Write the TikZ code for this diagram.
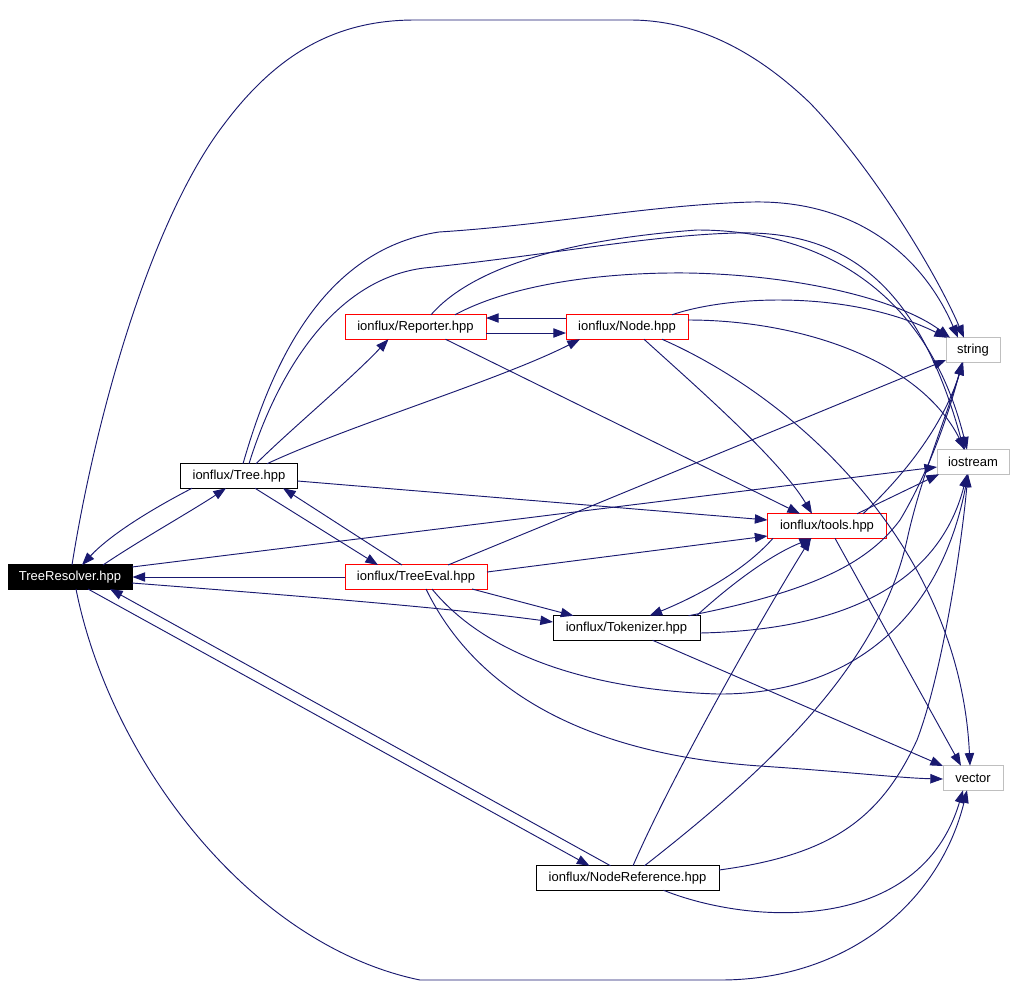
\documentclass[tikz,border=0pt]{standalone}
\usepackage{fontspec}
\setmainfont{Liberation Sans}
\usetikzlibrary{arrows.meta,calc}
\definecolor{edgec}{RGB}{25,25,112}
\definecolor{boxred}{RGB}{255,0,0}
\definecolor{boxgrey}{RGB}{191,191,191}
\tikzset{
 box/.style={draw, rectangle, inner sep=0pt, minimum height=18.4pt, line width=0.75pt,
   font=\fontsize{9.75pt}{11pt}\selectfont, text=black, fill=white},
 redbox/.style={box, draw=boxred},
 greybox/.style={box, draw=boxgrey},
 blackbox/.style={box, draw=black},
 rootbox/.style={box, draw=black, fill=black, text=white},
 dep/.style={draw=edgec, line width=0.7pt, -{Triangle[length=9.5pt,width=7pt]}}
}
\begin{document}
\begin{tikzpicture}[x=0.75pt,y=-0.75pt]
\fill[white] (0,0) rectangle (1016,1000);
\useasboundingbox (0,0) rectangle (1016,1000);

% nodes
\node[rootbox, minimum width=93pt] (TR) at (70,577) {TreeResolver.hpp};
\node[blackbox, minimum width=87.75pt] (Tree) at (239,476) {ionflux/Tree.hpp};
\node[redbox, minimum width=105.75pt] (Rep) at (415.5,327) {ionflux/Reporter.hpp};
\node[redbox, minimum width=91.5pt] (Node) at (627,327) {ionflux/Node.hpp};
\node[greybox, minimum width=40.5pt] (str) at (973,350) {string};
\node[greybox, minimum width=54pt] (ios) at (973,462) {iostream};
\node[redbox, minimum width=89.25pt] (tools) at (827,526) {ionflux/tools.hpp};
\node[redbox, minimum width=106.5pt] (TE) at (416,577) {ionflux/TreeEval.hpp};
\node[blackbox, minimum width=110.25pt] (Tok) at (626.5,628) {ionflux/Tokenizer.hpp};
\node[greybox, minimum width=45pt] (vec) at (973,778) {vector};
\node[blackbox, minimum width=137.25pt] (NR) at (627.5,878) {ionflux/NodeReference.hpp};

% TreeResolver edges
\draw[dep] ($(Tree)+(-47,12.25)$) .. controls (150,510) and (110,535) .. ($(TR)+(12,-12)$);
\draw[dep] ($(TR)+(33,-12)$) .. controls (140,540) and (190,512) .. ($(Tree)+(-13,12.25)$);
\draw[dep] (TE.west) -- (TR.east);
\draw[dep] ($(TR)+(62,-10)$) -- ($(ios)+(-36,5)$);
\draw[dep] ($(TR)+(62,6)$) .. controls (300,596) and (450,608) .. ($(Tok)+(-73.5,-6)$);
\draw[dep] ($(TR)+(18,12)$) -- ($(NR)+(-38,-12.25)$);
\draw[dep] ($(NR)+(-17,-12.25)$) -- ($(TR)+(40,12)$);
\draw[dep] ($(TR)+(2,-12)$) .. controls (95,420) and (150,220) .. (225,123)
   .. controls (280,50) and (340,20) .. (415,20) -- (630,20)
   .. controls (700,20) and (760,55) .. (810,103)
   .. controls (870,165) and (935,270) .. ($(str)+(-9,-12.25)$);
\draw[dep] ($(TR)+(6,12)$) .. controls (110,760) and (250,945) .. (420,980) -- (720,980)
   .. controls (850,980) and (940,900) .. ($(vec)+(-6,12.25)$);
\draw[dep] ($(NR)+(36,12.25)$) .. controls (750,925) and (920,935) .. ($(vec)+(-10,12.25)$);

% Tree edges
\draw[dep] ($(Tree)+(17,-12.25)$) .. controls (290,430) and (350,380) .. ($(Rep)+(-27,12.25)$);
\draw[dep] ($(Tree)+(28,-12.25)$) .. controls (350,425) and (500,380) .. ($(Node)+(-47,12.25)$);
\draw[dep] ($(Tree)+(58.5,5)$) -- ($(tools)+(-59.5,-6)$);
\draw[dep] ($(Tree)+(16,12.25)$) -- ($(TE)+(-38,-12)$);
\draw[dep] ($(TE)+(-14,-12)$) -- ($(Tree)+(44,12.25)$);
\draw[dep] ($(Tree)+(4,-12.25)$) .. controls (270,370) and (320,250) .. (439,232)
   .. controls (550,225) and (650,205) .. (752,202)
   .. controls (850,200) and (920,250) .. ($(str)+(-15,-12.25)$);
\draw[dep] ($(Tree)+(10,-12.25)$) .. controls (275,380) and (330,280) .. (424,268)
   .. controls (550,255) and (650,235) .. (737,233)
   .. controls (850,230) and (920,290) .. ($(ios)+(-9,-12.25)$);

% Reporter edges
\draw[dep] ($(Rep)+(70.5,6)$) -- ($(Node)+(-61,6)$);
\draw[dep] ($(Node)+(-61,-9)$) -- ($(Rep)+(70.5,-9)$);
\draw[dep] ($(Rep)+(30,12.25)$) -- ($(tools)+(-27,-12.25)$);
\draw[dep] ($(Rep)+(39.5,-12.25)$) .. controls (510,285) and (600,272) .. (688,273)
   .. controls (800,275) and (900,300) .. ($(str)+(-23,-12.25)$);
\draw[dep] ($(Rep)+(15.5,-12.25)$) .. controls (470,270) and (560,240) .. (697,230)
   .. controls (830,230) and (930,300) .. ($(ios)+(-6,-12.25)$);

% Node edges
\draw[dep] ($(Node)+(17,12.25)$) .. controls (700,390) and (780,460) .. ($(tools)+(-15,-12.25)$);
\draw[dep] ($(Node)+(35,12.25)$) .. controls (800,400) and (960,550) .. ($(vec)+(-3,-12.25)$);
\draw[dep] ($(Node)+(45,-12.25)$) .. controls (730,295) and (850,290) .. ($(str)+(-26,-12.25)$);
\draw[dep] ($(Node)+(61,-7)$) .. controls (800,320) and (920,360) .. ($(ios)+(-8,-12.25)$);

% TreeEval edges
\draw[dep] ($(TE)+(32,-12)$) -- ($(str)+(-27,10)$);
\draw[dep] ($(TE)+(71,-5)$) -- ($(tools)+(-59.5,10)$);
\draw[dep] ($(TE)+(56,12)$) -- ($(Tok)+(-53,-12.25)$);
\draw[dep] ($(TE)+(16,12)$) .. controls (490,660) and (600,690) .. (717,694)
   .. controls (850,695) and (940,620) .. ($(ios)+(-5,12.25)$);
\draw[dep] ($(TE)+(10,12)$) .. controls (480,700) and (600,755) .. (760,766)
   .. controls (850,772) and (900,778) .. ($(vec)+(-30,1)$);

% Tokenizer edges
\draw[dep] ($(Tok)+(70,-12.25)$) .. controls (730,585) and (770,555) .. ($(tools)+(-15,12.25)$);
\draw[dep] ($(tools)+(-54,12.25)$) .. controls (745,570) and (700,595) .. ($(Tok)+(23,-12.25)$);
\draw[dep] ($(Tok)+(62,-12.25)$) .. controls (820,590) and (870,560) .. (900,520)
   .. controls (930,470) and (950,410) .. ($(str)+(-11,12.25)$);
\draw[dep] ($(Tok)+(73.5,5)$) .. controls (850,630) and (940,580) .. ($(ios)+(-6,12.25)$);
\draw[dep] ($(Tok)+(26,12.25)$) -- ($(vec)+(-30,-12)$);

% tools edges
\draw[dep] ($(tools)+(36,-12.25)$) .. controls (910,470) and (945,420) .. ($(str)+(-10,12.25)$);
\draw[dep] ($(tools)+(30,-12.25)$) -- ($(ios)+(-34,12.25)$);
\draw[dep] ($(tools)+(8,12.25)$) -- ($(vec)+(-12,-12.25)$);

% NodeReference edges
\draw[dep] ($(NR)+(5.5,-12.25)$) .. controls (670,780) and (760,620) .. ($(tools)+(-16,12.25)$);
\draw[dep] ($(NR)+(17,-12.25)$) .. controls (780,760) and (880,660) .. (907,540)
   .. controls (920,480) and (945,420) .. ($(str)+(-10,12.25)$);
\draw[dep] ($(NR)+(91.5,-8)$) .. controls (830,855) and (880,820) .. (917,740)
   .. controls (940,680) and (960,560) .. ($(ios)+(-5,12.25)$);
\end{tikzpicture}
\end{document}
